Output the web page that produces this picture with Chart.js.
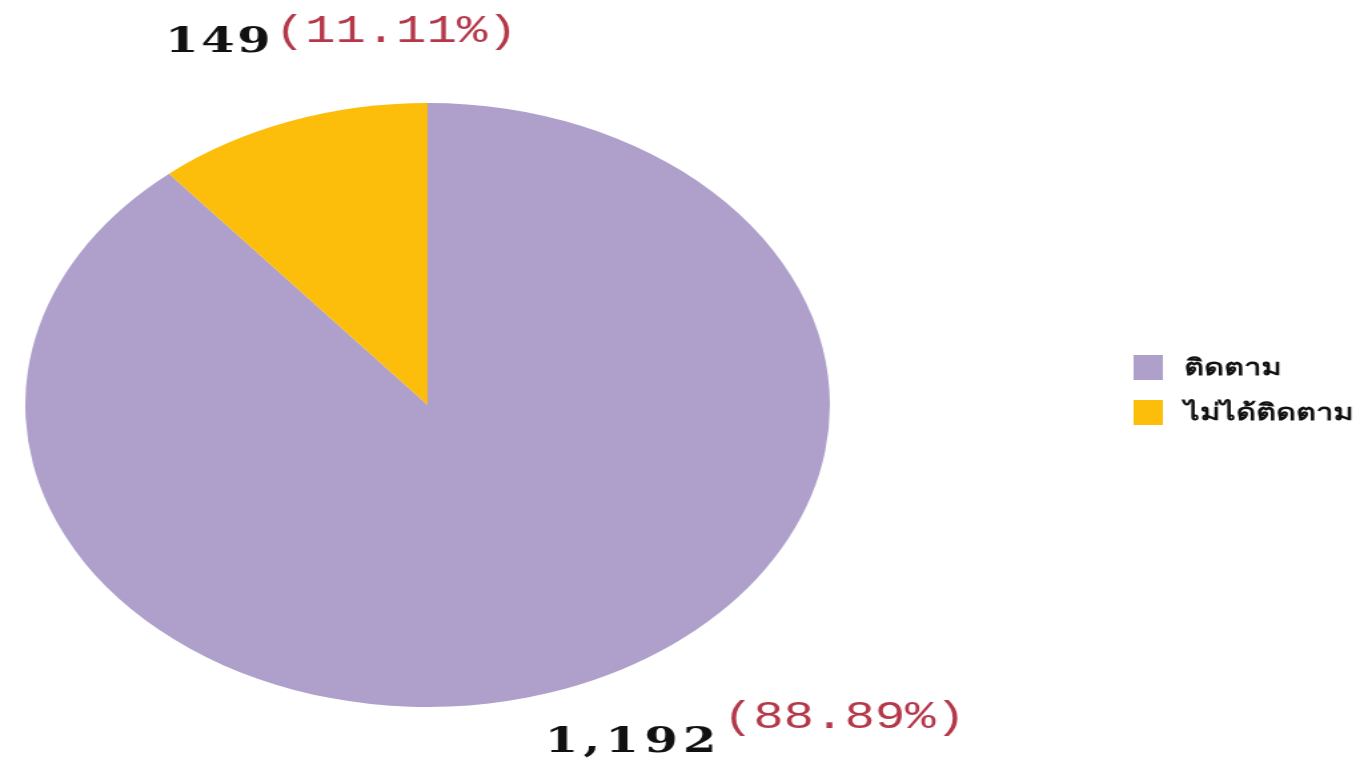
<!DOCTYPE html>
<html>
<head>
<meta charset="utf-8">
<script src="https://cdn.jsdelivr.net/npm/chart.js@4.4.1/dist/chart.umd.min.js"></script>
<style>
  html, body { margin: 0; padding: 0; background: #fff; overflow: hidden; }
</style>
</head>
<body>
<!-- the source picture is stretched sideways, so the canvas is too -->
<canvas id="pie" width="1024" height="769" style="display:block;width:1364px;height:769px;"></canvas>
<script>
	/* data */
	var labels = ['ติดตาม', 'ไม่ได้ติดตาม'];
	var counts = [1192, 149];
	var percents = ['88.89%', '11.11%'];
	var colours = ['#ae9fcb', '#fcbd0b'];

	// where the count + percent text sits (canvas units, before stretch)
	var labelSpots = [
		{ x: 409, y: 752, dy: -24, sp: 4 },
		{ x: 124, y: 52, dy: -10, sp: 2 }
	];

	function fmt(n) {
		return n.toString().replace(/\B(?=(\d{3})+(?!\d))/g, ',');
	}

	var textPlugin = {
		id: 'textPlugin',
		afterDraw: function(chart) {
			var ctx = chart.ctx;
			ctx.save();
			ctx.textBaseline = 'alphabetic';
			ctx.textAlign = 'left';

			// value labels
			for (var i = 0; i < counts.length; i++) {
				var s = labelSpots[i];
				ctx.font = 'bold 36px "DejaVu Serif", serif';
				ctx.letterSpacing = s.sp + 'px';
				ctx.fillStyle = '#111';
				var t = fmt(counts[i]);
				ctx.fillText(t, s.x, s.y);
				var w = ctx.measureText(t).width;
				ctx.letterSpacing = '0px';
				ctx.font = '38px "Liberation Mono", monospace';
				ctx.fillStyle = '#b4384a';
				ctx.fillText('(' + percents[i] + ')', s.x + w + 1, s.y + s.dy);
			}

			// legend
			var lx = 851, ly = 355;
			for (var j = 0; j < labels.length; j++) {
				ctx.fillStyle = colours[j];
				ctx.fillRect(lx, ly + j * 45, 22, 25);
				ctx.fillStyle = '#111';
				ctx.font = 'bold 23px "Noto Sans", sans-serif';
				ctx.textBaseline = 'middle';
				ctx.fillText(labels[j], lx + 38, ly + j * 45 + 13);
			}
			ctx.restore();
		}
	};

	var ctx = document.getElementById('pie');
	var pieChart = new Chart(ctx, {
		type: 'pie',
		data: {
			labels: labels,
			datasets: [{
				data: counts,
				backgroundColor: colours,
				borderWidth: 0
			}]
		},
		options: {
			responsive: false,
			animation: false,
			layout: {
				padding: { left: 19, right: 401, top: 103, bottom: 62 }
			},
			plugins: {
				legend: { display: false },
				tooltip: { enabled: false }
			}
		},
		plugins: [textPlugin]
	});
</script>
</body>
</html>
